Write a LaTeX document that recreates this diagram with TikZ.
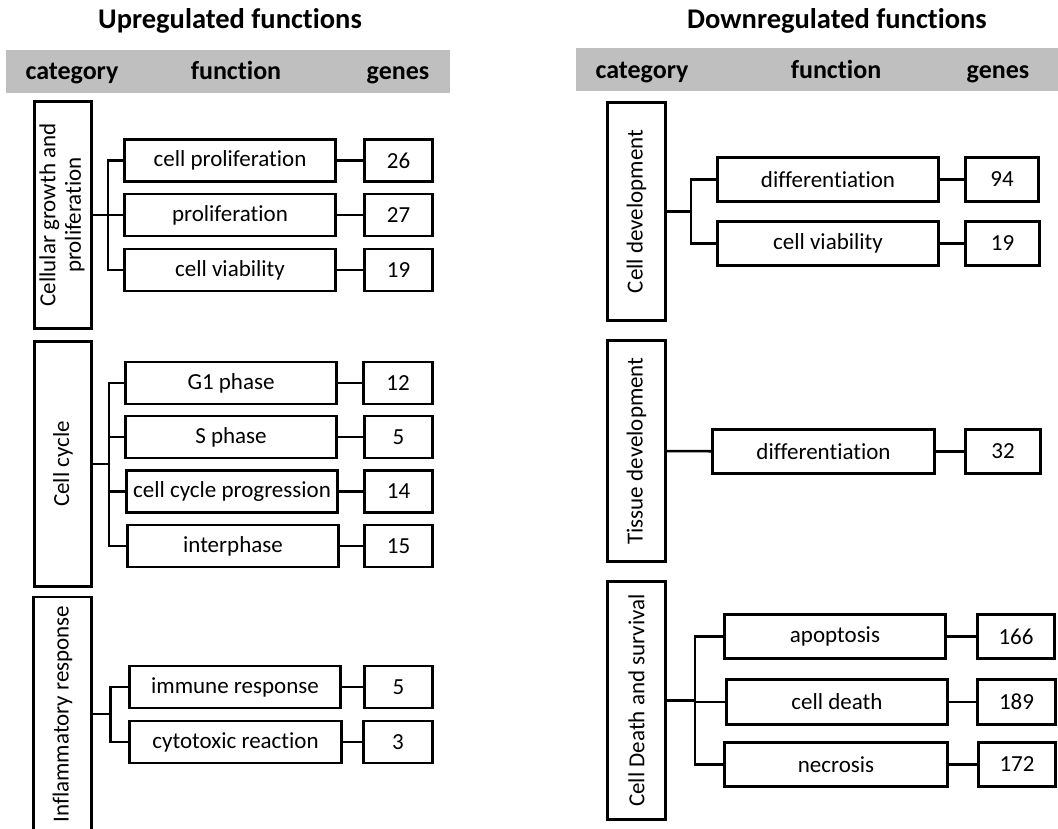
\documentclass[tikz,border=0pt]{standalone}
\usepackage{fontspec}
\setmainfont{Carlito}[Ligatures=NoCommon]
\usepackage{graphicx}
\definecolor{bargray}{RGB}{191,191,191}

\begin{document}
\begin{tikzpicture}[x=1pt,y=-1pt,
		box/.style={draw,line width=2.6pt,inner sep=0pt,font=\fontsize{23}{25.5}\selectfont},
		cat node/.style={box,minimum width=57.5pt},
		fun node/.style={box,minimum width=211.5pt,minimum height=42pt},
		gen node/.style={box,minimum width=68.5pt,minimum height=42pt},
		link/.style={line width=2.6pt},
		head/.style={font=\bfseries\fontsize{26}{30}\selectfont,anchor=base},
		ttl/.style={font=\bfseries\fontsize{28.5}{32}\selectfont,anchor=base}]
		
		\useasboundingbox (0,0) rectangle (1058,828);
		
		% upregulated side
		\fill[bargray] (6,50) rectangle (450,93);
		\node[ttl] (tu) at (230,28) {Upregulated functions};
		\node[head] (hu1) at (72,79) {category};
		\node[head] (hu2) at (236,79) {function};
		\node[head] (hu3) at (398,79) {genes};
		
		\node[cat node, minimum height=227.5pt] (cg) at (63,215)
		{\rotatebox{90}{\begin{tabular}{@{}c@{}}Cellular growth and\\ proliferation\end{tabular}}};
		\node[cat node, minimum height=245.5pt] (cc) at (63,464) {\rotatebox{90}{Cell cycle}};
		\node[cat node, minimum height=234pt] (ir) at (62.5,714) {\rotatebox{90}{Inflammatory response}};
		
		\node[fun node] (f1) at (230,160.5) {cell proliferation};
		\node[fun node] (f2) at (230,215) {proliferation};
		\node[fun node] (f3) at (230,270) {cell viability};
		\node[fun node] (f4) at (231,383) {G1 phase};
		\node[fun node] (f5) at (231,437) {S phase};
		\node[fun node] (f6) at (232,491.5) {cell cycle progression};
		\node[fun node] (f7) at (233,546) {interphase};
		\node[fun node] (f8) at (235,687) {immune response};
		\node[fun node] (f9) at (235.5,742) {cytotoxic reaction};
		
		\node[gen node] (g1) at (398.5,160.5) {26};
		\node[gen node] (g2) at (398.5,215) {27};
		\node[gen node] (g3) at (398.5,270) {19};
		\node[gen node] (g4) at (398,383) {12};
		\node[gen node] (g5) at (398.5,437) {5};
		\node[gen node] (g6) at (398.5,491.5) {14};
		\node[gen node] (g7) at (398.5,546) {15};
		\node[gen node] (g8) at (398.5,687) {5};
		\node[gen node] (g9) at (398,742) {3};
		
		\draw[link] (cg.east) -- ++(15,0) |- (f1.west);
		\draw[link] (cg.east) -- ++(15,0) |- (f2.west);
		\draw[link] (cg.east) -- ++(15,0) |- (f3.west);
		\draw[link] (cc.east) -- ++(16,0) |- (f4.west);
		\draw[link] (cc.east) -- ++(16,0) |- (f5.west);
		\draw[link] (cc.east) -- ++(16,0) |- (f6.west);
		\draw[link] (cc.east) -- ++(16,0) |- (f7.west);
		\draw[link] (ir.east) -- ++(18,0) |- (f8.west);
		\draw[link] (ir.east) -- ++(18,0) |- (f9.west);
		
		\path[link]
		(f1) edge (g1)
		(f2) edge (g2)
		(f3) edge (g3)
		(f4) edge (g4)
		(f5) edge (g5)
		(f6) edge (g6)
		(f7) edge (g7)
		(f8) edge (g8)
		(f9) edge (g9);
		
		% downregulated side
		\fill[bargray] (576,48) rectangle (1060,91);
		\node[ttl] (td) at (837,28.5) {Downregulated functions};
		\node[head] (hd1) at (642,78) {category};
		\node[head] (hd2) at (836,78) {function};
		\node[head] (hd3) at (998,78) {genes};
		
		\node[cat node, minimum width=58.5pt, minimum height=218.5pt] (cd) at (636.5,211.5) {\rotatebox{90}{Cell development}};
		\node[cat node, minimum width=58.5pt, minimum height=221.5pt] (td2) at (636.5,451) {\rotatebox{90}{Tissue development}};
		\node[cat node, minimum width=58.5pt, minimum height=238.5pt] (ds) at (636.5,700.5) {\rotatebox{90}{Cell Death and survival}};
		
		\node[fun node, minimum width=221.5pt, minimum height=44.5pt] (d1) at (828,179.5) {differentiation};
		\node[fun node, minimum width=221.5pt, minimum height=44.5pt] (d2) at (828,243.5) {cell viability};
		\node[fun node, minimum width=222.5pt, minimum height=44.5pt] (d3) at (823.5,451.5) {differentiation};
		\node[fun node, minimum width=221.5pt, minimum height=44.5pt] (d4) at (835,636.5) {apoptosis};
		\node[fun node, minimum width=221.5pt, minimum height=44.5pt] (d5) at (837,702) {cell death};
		\node[fun node, minimum width=223.5pt, minimum height=44.5pt] (d6) at (836,764.5) {necrosis};
		
		\node[gen node, minimum width=73.5pt, minimum height=44.5pt] (e1) at (1002,179.5) {94};
		\node[gen node, minimum width=73.5pt, minimum height=44.5pt] (e2) at (1002.5,243.5) {19};
		\node[gen node, minimum width=75.5pt, minimum height=44.5pt] (e3) at (1003,451.5) {32};
		\node[gen node, minimum width=77.5pt, minimum height=44.5pt] (e4) at (1016,636.5) {166};
		\node[gen node, minimum width=77.5pt, minimum height=44.5pt] (e5) at (1016.5,702) {189};
		\node[gen node, minimum width=77.5pt, minimum height=44.5pt] (e6) at (1017,764.5) {172};
		
		\draw[link] (cd.east) -- ++(24,0) |- (d1.west);
		\draw[link] (cd.east) -- ++(24,0) |- (d2.west);
		\draw[link] (ds.east) -- ++(28,0) |- (d4.west);
		\draw[link] (ds.east) -- ++(28,0) |- (d5.west);
		\draw[link] (ds.east) -- ++(28,0) |- (d6.west);
		
		\path[link]
		(td2) edge (d3)
		(d1) edge (e1)
		(d2) edge (e2)
		(d3) edge (e3)
		(d4) edge (e4)
		(d5) edge (e5)
		(d6) edge (e6);
\end{tikzpicture}
\end{document}
